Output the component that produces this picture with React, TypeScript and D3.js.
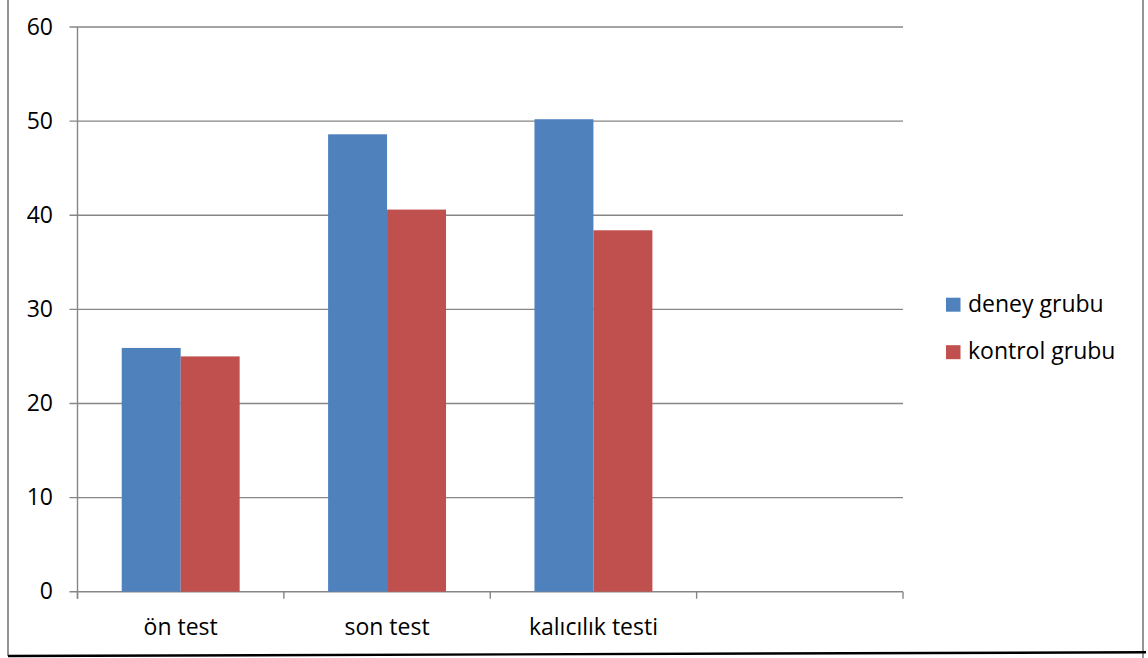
import React from "react";
import * as d3 from "d3";

const categories = ["ön test", "son test", "kalıcılık testi", ""];
const seriesNames = ["deney grubu", "kontrol grubu"];
const deneyValues: (number | null)[] = [25.9, 48.6, 50.2, null];
const kontrolValues: (number | null)[] = [25.0, 40.6, 38.4, null];
const yTicks = [0, 10, 20, 30, 40, 50, 60];
const colors = ["#4F81BD", "#C0504D"];

const W = 1148;
const H = 658;
const plotLeft = 77.5;
const plotRight = 903;
const plotTop = 27;
const plotBottom = 591.7;
const FONT = "'Open Sans', sans-serif";

export default function App() {
  const x = d3.scaleBand<string>().domain(categories).range([plotLeft, plotRight]).paddingInner(0).paddingOuter(0);
  const x1 = d3.scaleBand<string>().domain(seriesNames).range([0, x.bandwidth()]).paddingInner(0).paddingOuter(0.75);
  const y = d3.scaleLinear().domain([0, 60]).range([plotBottom, plotTop]);
  const series = [deneyValues, kontrolValues];
  const gridColor = "#868686";
  const boundaries = categories.map((c) => x(c) as number).concat([plotRight]);

  return (
    <svg width={W} height={H} style={{ position: "absolute", left: 0, top: 0 }} fontFamily={FONT}>
      <rect x={0} y={0} width={W} height={H} fill="#fff" />
      {/* frame */}
      <line x1={8} y1={0} x2={8} y2={656} stroke="#8a8a8a" strokeWidth={1.8} />
      <line x1={1143} y1={0} x2={1143} y2={658} stroke="#8a8a8a" strokeWidth={1.8} />
      <line x1={8} y1={656} x2={1146} y2={652.3} stroke="#000" strokeWidth={2.4} />

      {/* gridlines */}
      {yTicks.map((t) => (
        <line key={"g" + t} x1={plotLeft - 8} x2={plotRight} y1={y(t)} y2={y(t)} stroke={gridColor} strokeWidth={1.4} />
      ))}
      {/* y labels */}
      {yTicks.map((t) => (
        <text key={"l" + t} x={53} y={y(t) + 7.5} textAnchor="end" fontSize={23} fill="#000">
          {t}
        </text>
      ))}
      {/* bars */}
      {series.map((vals, si) =>
        vals.map((v, ci) =>
          v == null ? null : (
            <rect
              key={"b" + si + "-" + ci}
              x={(x(categories[ci]) as number) + (x1(seriesNames[si]) as number)}
              y={y(v)}
              width={x1.bandwidth()}
              height={y(0) - y(v)}
              fill={colors[si]}
            />
          )
        )
      )}
      {/* y axis */}
      <line x1={plotLeft} x2={plotLeft} y1={plotTop} y2={plotBottom + 7} stroke={gridColor} strokeWidth={1.4} />
      {/* x axis ticks */}
      {boundaries.map((bx, i) => (
        <line key={"t" + i} x1={bx} x2={bx} y1={plotBottom} y2={plotBottom + 7} stroke={gridColor} strokeWidth={1.4} />
      ))}
      {/* x labels */}
      {categories.map((c) => (
        <text key={"x" + c} x={(x(c) as number) + x.bandwidth() / 2} y={plotBottom + 43} textAnchor="middle" fontSize={23} fill="#000">
          {c}
        </text>
      ))}
      {/* legend */}
      {seriesNames.map((s, i) => (
        <g key={"lg" + s} transform={`translate(946, ${297.7 + i * 47.5})`}>
          <rect x={0} y={0} width={14.5} height={14} fill={colors[i]} />
          <text x={22} y={14} fontSize={23} fill="#000">
            {s}
          </text>
        </g>
      ))}
    </svg>
  );
}
